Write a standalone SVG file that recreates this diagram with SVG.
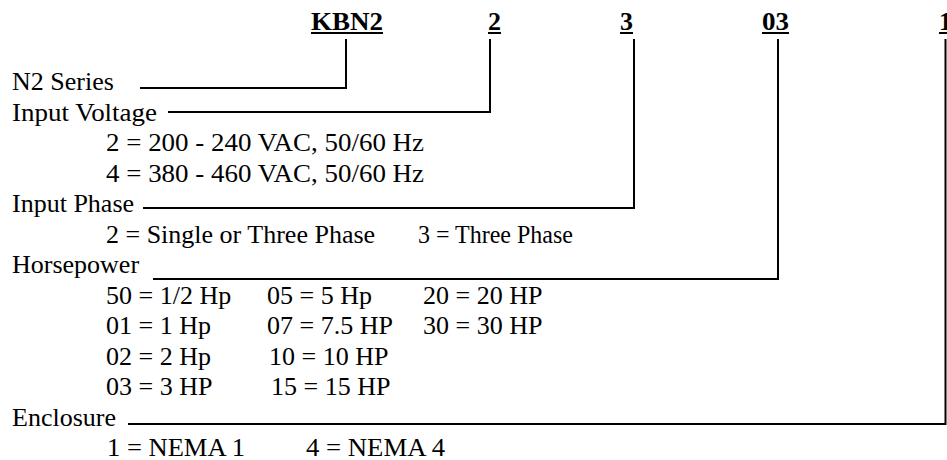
<svg xmlns="http://www.w3.org/2000/svg" width="947" height="460" viewBox="0 0 947 460">
<style>
text{font-family:"Liberation Serif","Times New Roman",serif;font-size:26px;fill:#000}
.code{font-weight:bold}
.ln{stroke:#000;stroke-width:2;fill:none}
</style>
<rect width="947" height="460" fill="#fff"/>
<g id="codes">
<g id="code-kbn2"><text class="code" x="311" y="30" textLength="72" lengthAdjust="spacingAndGlyphs">KBN2</text><line class="ln" x1="311" y1="33" x2="383" y2="33"/></g>
<g id="code-voltage"><text class="code" x="488" y="30">2</text><line class="ln" x1="488" y1="33" x2="501" y2="33"/></g>
<g id="code-phase"><text class="code" x="620" y="30">3</text><line class="ln" x1="620" y1="33" x2="633" y2="33"/></g>
<g id="code-hp"><text class="code" x="762" y="30" textLength="27" lengthAdjust="spacingAndGlyphs">03</text><line class="ln" x1="762" y1="33" x2="789" y2="33"/></g>
<g id="code-enc"><text class="code" x="939" y="30">1</text><line class="ln" x1="939" y1="33" x2="950" y2="33"/></g>
</g>
<g id="series"><text x="12" y="90">N2 Series</text></g>
<g id="voltage">
<text x="12" y="120.5" textLength="145" lengthAdjust="spacingAndGlyphs">Input Voltage</text>
<text x="106" y="151" textLength="318" lengthAdjust="spacingAndGlyphs">2 = 200 - 240 VAC, 50/60 Hz</text>
<text x="106" y="181.5" textLength="318" lengthAdjust="spacingAndGlyphs">4 = 380 - 460 VAC, 50/60 Hz</text>
</g>
<g id="phase">
<text x="12" y="212">Input Phase</text>
<text x="106" y="242.5">2 = Single or Three Phase</text>
<text x="418" y="242.5" textLength="155" lengthAdjust="spacingAndGlyphs">3 = Three Phase</text>
</g>
<g id="horsepower">
<text x="12" y="273">Horsepower</text>
<text x="106" y="303.5">50 = 1/2 Hp</text>
<text x="267" y="303.5">05 = 5 Hp</text>
<text x="423" y="303.5">20 = 20 HP</text>
<text x="106" y="334">01 = 1 Hp</text>
<text x="267" y="334">07 = 7.5 HP</text>
<text x="423" y="334">30 = 30 HP</text>
<text x="106" y="364.5">02 = 2 Hp</text>
<text x="269" y="364.5">10 = 10 HP</text>
<text x="106" y="395">03 = 3 HP</text>
<text x="271" y="395">15 = 15 HP</text>
</g>
<g id="enclosure">
<text x="12" y="425.5">Enclosure</text>
<text x="107" y="455.5" textLength="138" lengthAdjust="spacingAndGlyphs">1 = NEMA 1</text>
<text x="306" y="455.5" textLength="139" lengthAdjust="spacingAndGlyphs">4 = NEMA 4</text>
</g>
<g id="connectors" class="ln">
<polyline class="ln" points="140,88 346,88 346,39"/>
<polyline class="ln" points="168,112 490,112 490,39"/>
<polyline class="ln" points="143,208 634,208 634,39"/>
<polyline class="ln" points="153,279 778,279 778,39"/>
<polyline class="ln" points="128,424 945.5,424 945.5,39"/>
</g>
</svg>
